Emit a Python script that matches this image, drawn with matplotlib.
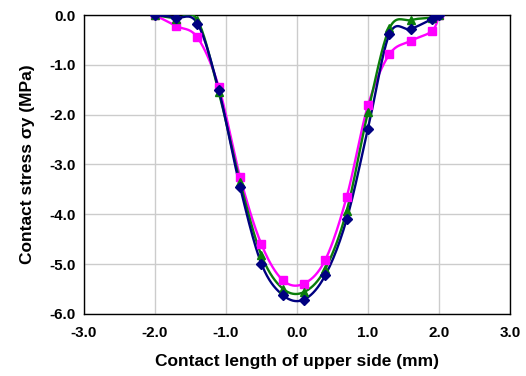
import numpy as np
import matplotlib
matplotlib.use("Agg")
import matplotlib.pyplot as plt

# contact positions (mm)
x = [-2.0, -1.7, -1.4, -1.1, -0.8, -0.5, -0.2, 0.1, 0.4, 0.7, 1.0, 1.3, 1.6, 1.9, 2.0]

# contact stress for the three cases (MPa)
blue = [0.0, -0.05, -0.17, -1.50, -3.45, -4.99, -5.62, -5.71, -5.22, -4.10, -2.28, -0.39, -0.28, -0.08, 0.0]
green = [0.0, -0.07, -0.10, -1.54, -3.35, -4.82, -5.49, -5.56, -5.09, -3.93, -1.94, -0.27, -0.10, -0.05, 0.0]
pink = [0.0, -0.22, -0.45, -1.44, -3.25, -4.60, -5.32, -5.39, -4.91, -3.65, -1.81, -0.79, -0.52, -0.32, 0.0]

x_ticks = [-3.0, -2.0, -1.0, 0.0, 1.0, 2.0, 3.0]
y_ticks = [0.0, -1.0, -2.0, -3.0, -4.0, -5.0, -6.0]


def smooth(xs, ys, n=20):
    """Excel-like smoothed line (Catmull-Rom through the points)."""
    px = np.asarray(xs, float)
    py = np.asarray(ys, float)
    px = np.concatenate([[px[0]], px, [px[-1]]])
    py = np.concatenate([[py[0]], py, [py[-1]]])
    out_x, out_y = [], []
    t = np.linspace(0, 1, n)
    for i in range(1, len(px) - 2):
        p0, p1, p2, p3 = (np.array([px[j], py[j]]) for j in (i - 1, i, i + 1, i + 2))
        c1 = p1 + (p2 - p0) / 6.0
        c2 = p2 - (p3 - p1) / 6.0
        seg = ((1 - t) ** 3)[:, None] * p1 + (3 * (1 - t) ** 2 * t)[:, None] * c1 \
            + (3 * (1 - t) * t ** 2)[:, None] * c2 + (t ** 3)[:, None] * p2
        out_x.extend(seg[:, 0])
        out_y.extend(seg[:, 1])
    return out_x, out_y


plt.rcParams['font.family'] = ['Liberation Sans', 'DejaVu Sans']

fig = plt.figure(figsize=(5.26, 3.76), dpi=100)
ax = fig.add_axes([0.159, 0.165, 0.811, 0.795])

series = [
    (pink, '#ff00ff', 's'),
    (green, '#0a7d0a', '^'),
    (blue, '#000080', 'D'),
]
for ys, col, mk in series:
    sx, sy = smooth(x, ys)
    ax.plot(sx, sy, color=col, lw=1.7, zorder=3)
    ax.plot(x, ys, ls='none', marker=mk, color=col, ms=6 if mk != 'D' else 5, zorder=4)

ax.set_xlim(-3.0, 3.0)
ax.set_ylim(-6.0, 0.0)
ax.set_xticks(x_ticks)
ax.set_yticks(y_ticks)
ax.set_xticklabels([f"{v:.1f}" for v in x_ticks], fontsize=11, fontweight='bold')
ax.set_yticklabels([f"{v:.1f}" for v in y_ticks], fontsize=11, fontweight='bold')
ax.tick_params(axis='x', length=0, pad=9)
ax.tick_params(axis='y', length=0, pad=6)
ax.grid(True, color='#cccccc', lw=1.0)
ax.set_axisbelow(True)
for s in ax.spines.values():
    s.set_color('black')
    s.set_linewidth(1.0)

ax.set_xlabel('Contact length of upper side (mm)', fontsize=12.5, fontweight='bold', labelpad=10)
ax.set_ylabel('Contact stress σy (MPa)', fontsize=12.5, fontweight='bold', labelpad=10)

fig.savefig('out.png', dpi=100)
